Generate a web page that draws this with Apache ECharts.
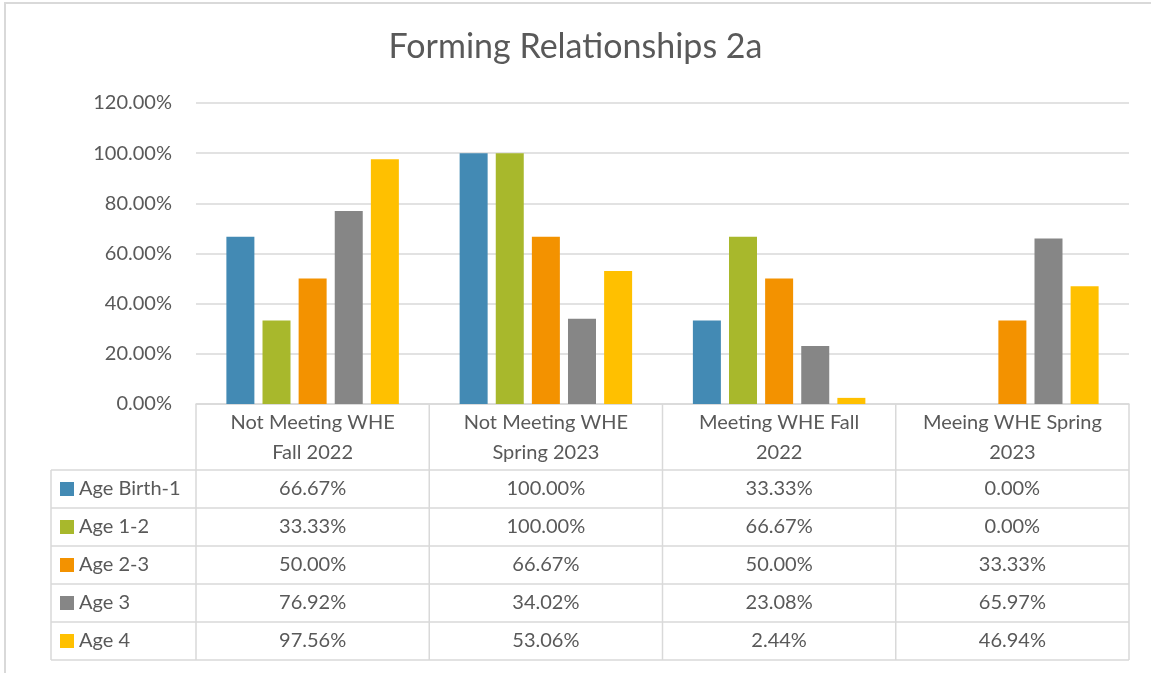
<!DOCTYPE html>
<html>
<head>
<meta charset="utf-8">
<script src="https://cdn.jsdelivr.net/npm/echarts@6/dist/echarts.min.js"></script>
<style>
    html, body { margin: 0; padding: 0; background: #fff; }
    #chart { width: 1151px; height: 673px; }
</style>
</head>
<body>
<div id="chart"></div>
<script>
const categories = ['Not Meeting WHE\nFall 2022', 'Not Meeting WHE\nSpring 2023', 'Meeting WHE Fall\n2022', 'Meeing WHE Spring\n2023'];
const seriesNames = ['Age Birth-1', 'Age 1-2', 'Age 2-3', 'Age 3', 'Age 4'];
const ageBirth1 = [66.67, 100.0, 33.33, 0.0];
const age1to2 = [33.33, 100.0, 66.67, 0.0];
const age2to3 = [50.0, 66.67, 50.0, 33.33];
const age3 = [76.92, 34.02, 23.08, 65.97];
const age4 = [97.56, 53.06, 2.44, 46.94];
const seriesValues = [ageBirth1, age1to2, age2to3, age3, age4];
const colors = ['#438AB4', '#A8B82C', '#F39200', '#868686', '#FFC000'];

const textColor = '#595959';
const lineColor = '#d9d9d9';
const font = 'Lato, "Open Sans", sans-serif';
const fs = 20;

// table layout
const gridLeft = 196;
const gridRight = 1129;
const axisY = 404;
const headerH = 66;
const rowH = 38;
const tableLeft = 51;
const colW = (gridRight - gridLeft) / categories.length;

function pct(v) {
    return v.toFixed(2) + '%';
}

function buildTable() {
    const items = [];
    const bodyTop = axisY + headerH;
    const bodyBottom = bodyTop + rowH * seriesNames.length;
    // column lines
    for (let i = 0; i <= categories.length; i++) {
        const x = gridLeft + i * colW;
        items.push({
            type: 'line',
            shape: { x1: x, y1: axisY, x2: x, y2: bodyBottom },
            style: { stroke: lineColor, lineWidth: 1.5 },
        });
    }
    items.push({
        type: 'line',
        shape: { x1: tableLeft, y1: bodyTop, x2: tableLeft, y2: bodyBottom },
        style: { stroke: lineColor, lineWidth: 1.5 },
    });
    for (let r = 0; r <= seriesNames.length; r++) {
        const y = bodyTop + r * rowH;
        items.push({
            type: 'line',
            shape: { x1: tableLeft, y1: y, x2: gridRight, y2: y },
            style: { stroke: lineColor, lineWidth: 1.5 },
        });
    }
    seriesNames.forEach((name, r) => {
        const cy = bodyTop + r * rowH + rowH / 2;
        items.push({
            type: 'rect',
            shape: { x: 60, y: cy - 7, width: 14, height: 14 },
            style: { fill: colors[r] },
        });
        items.push({
            type: 'text',
            x: 79,
            y: cy,
            style: { text: name, fill: textColor, font: fs + 'px ' + font, verticalAlign: 'middle' },
        });
        seriesValues[r].forEach((v, c) => {
            items.push({
                type: 'text',
                x: gridLeft + c * colW + colW / 2,
                y: cy,
                style: { text: pct(v), fill: textColor, font: fs + 'px ' + font, align: 'center', verticalAlign: 'middle' },
            });
        });
    });
    // chart border
    items.push({
        type: 'rect',
        shape: { x: 5, y: 3, width: 1160, height: 700 },
        style: { fill: 'none', stroke: lineColor, lineWidth: 2 },
    });
    return items;
}

const chart = echarts.init(document.getElementById('chart'));
const option = {
    backgroundColor: '#fff',
    animation: false,
    title: {
        text: 'Forming Relationships 2a',
        left: 'center',
        top: 30,
        padding: 0,
        textStyle: { color: textColor, fontSize: 34, fontWeight: 'normal', fontFamily: font },
    },
    grid: { left: gridLeft, right: 1151 - gridRight, top: 103, bottom: 673 - axisY },
    xAxis: {
        type: 'category',
        data: categories,
        axisLine: { show: true, lineStyle: { color: lineColor, width: 1.5 } },
        axisTick: { show: false },
        axisLabel: {
            color: textColor,
            fontSize: fs,
            fontFamily: font,
            lineHeight: 30,
            margin: 4,
            interval: 0,
        },
    },
    yAxis: {
        type: 'value',
        min: 0,
        max: 120,
        interval: 20,
        axisLine: { show: false },
        axisTick: { show: false },
        axisLabel: { color: textColor, fontSize: fs, fontFamily: font, margin: 24, formatter: (v) => pct(v) },
        splitLine: { lineStyle: { color: lineColor, width: 1.5 } },
    },
    series: seriesNames.map((name, i) => ({
        name: name,
        type: 'bar',
        data: seriesValues[i],
        barWidth: 28,
        barGap: '29%',
        itemStyle: { color: colors[i] },
    })),
    graphic: buildTable(),
};
chart.setOption(option);
</script>
</body>
</html>
